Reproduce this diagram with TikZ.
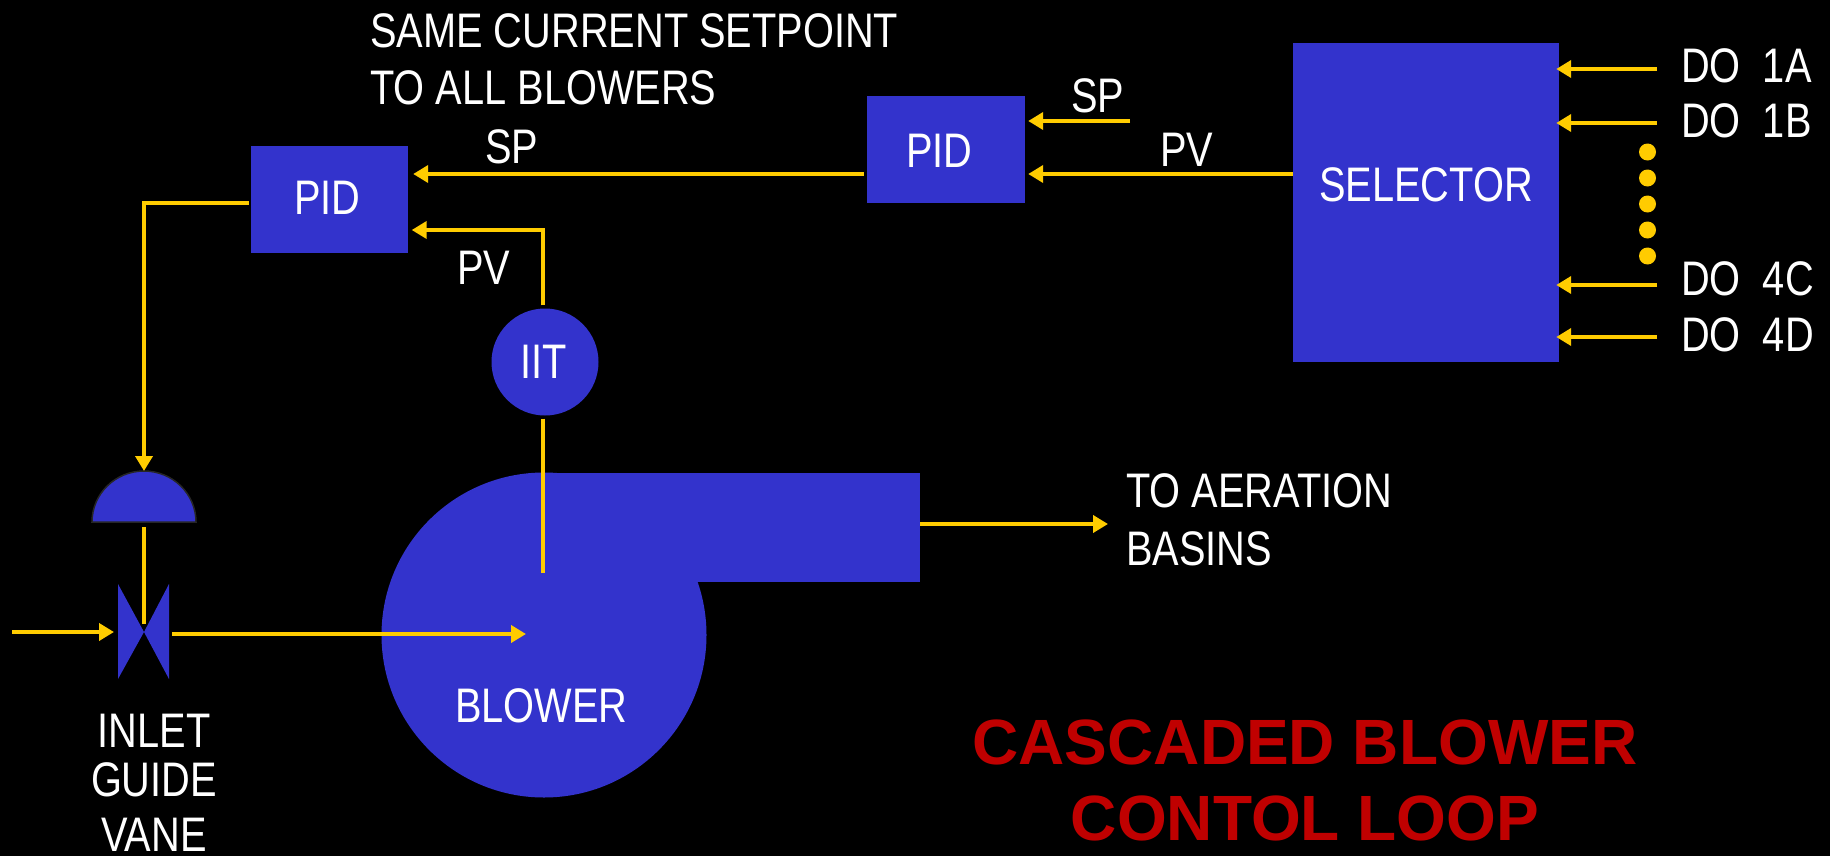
\documentclass[tikz,border=0pt]{standalone}
\usepackage{xcolor}
\usepackage{fontspec}
\setmainfont[FakeStretch=0.82]{Liberation Sans}
\newfontfamily\titlefont{Liberation Sans}
\usepackage{tikz}
\usetikzlibrary{arrows.meta,positioning}
\definecolor{plantblue}{HTML}{3333CC}
\definecolor{signal}{HTML}{FFCC00}
\definecolor{titlered}{HTML}{C00000}

\begin{document}
\begin{tikzpicture}[x=1pt, y=-1pt]
    \tikzstyle{block} = [rectangle, fill=plantblue, inner sep=0pt]
    \tikzstyle{label} = [text=white, inner sep=0pt, anchor=base west, align=left, font=\fontsize{48.5}{57.5}\selectfont]
    \tikzstyle{dotmark} = [circle, fill=signal, inner sep=0pt, minimum size=17pt]
    \tikzstyle{arrow} = [line width=4pt, draw=signal, -{Triangle[length=15pt,width=17pt]}]
    \tikzstyle{wire} = [line width=4pt, draw=signal]

    \path [fill=black, use as bounding box] (0,0) rectangle (1830,856);

    % Controllers and selector
    \node [block, minimum width=157pt, minimum height=107pt] (pidslave) at (329.5,199.5) {};
    \node [block, minimum width=158pt, minimum height=107pt] (pidmaster) at (946,149.5) {};
    \node [block, minimum width=266pt, minimum height=319pt] (selector) at (1426,202.5) {};
    \node [label] (pidslavetext) at (294,214) {PID};
    \node [label] (pidmastertext) at (906,167) {PID};
    \node [label] (selectortext) at (1319,201) {SELECTOR};

    % Blower body
    \node [circle, fill=plantblue, inner sep=0pt, minimum size=325pt] (blower) at (544,635) {};
    \node [block, minimum width=376pt, minimum height=109pt] (discharge) at (732,527.5) {};
    \node [circle, fill=plantblue, inner sep=0pt, minimum size=107pt] (iit) at (545,362) {};
    \node [label] (blowertext) at (455,722) {BLOWER};
    \node [label] (iittext) at (520,378) {IIT};

    % Inlet guide vane and its actuator
    \coordinate (vane) at (144,632);
    \coordinate (acttop) at (144,471);
    \coordinate (actbase) at (144,522);
    \fill [plantblue] (vane) -- (118,584) -- (118,679) -- cycle;
    \fill [plantblue] (vane) -- (169,584) -- (169,679) -- cycle;
    \draw [fill=plantblue, draw=black!85!white, line width=1.5pt] (92,522) arc [start angle=180, end angle=0, x radius=52pt, y radius=51pt] -- cycle;

    % DO inputs
    \node [label] (doa) at (1681,83) {DO\ \ 1A};
    \node [label] (dob) at (1681,138) {DO\ \ 1B};
    \node [label] (doc) at (1681,295) {DO\ \ 4C};
    \node [label] (dod) at (1681,351) {DO\ \ 4D};
    \coordinate (ina) at (1657,69);
    \coordinate (inb) at (1657,123);
    \coordinate (inc) at (1657,285);
    \coordinate (ind) at (1657,337);
    \node [dotmark] (dota) at (1647.5,152) {};
    \node [dotmark, below of=dota, node distance=26pt] (dotb) {};
    \node [dotmark, below of=dotb, node distance=26pt] (dotc) {};
    \node [dotmark, below of=dotc, node distance=26pt] (dotd) {};
    \node [dotmark, below of=dotd, node distance=26pt] (dote) {};

    % Other free ends
    \coordinate (spin) at (1130,121);
    \coordinate (airin) at (12,632);
    \coordinate (airtip) at (526,634);
    \coordinate (stemend) at (543,573);
    \coordinate (basintip) at (1108,524);

    % Texts
    \node [label] (sametext) at (370,105) {SAME CURRENT SETPOINT\\TO ALL BLOWERS};
    \node [label] (spslave) at (485,163) {SP};
    \node [label] (pvslave) at (457,284) {PV};
    \node [label] (spmaster) at (1071,113) {SP};
    \node [label] (pvmaster) at (1160,166) {PV};
    \node [label] (basintext) at (1126,565) {TO AERATION\\BASINS};
    \node [label, align=center, anchor=base, font=\fontsize{48.5}{49}\selectfont] (vanetext) at (154,851) {INLET\\GUIDE\\[6pt]VANE};
    \node [text=titlered, inner sep=0pt, anchor=base, align=center, font=\titlefont\bfseries\fontsize{64}{76}\selectfont] (title) at (1305,840) {CASCADED BLOWER\\CONTOL LOOP};

    % Connections
    \draw [arrow, shorten >=-3pt] (ina) -- (selector.east |- ina);
    \draw [arrow, shorten >=-3pt] (inb) -- (selector.east |- inb);
    \draw [arrow, shorten >=-3pt] (inc) -- (selector.east |- inc);
    \draw [arrow, shorten >=-3pt] (ind) -- (selector.east |- ind);
    \draw [arrow, shorten >=3pt] (spin) -- (pidmaster.east |- spin);
    \draw [arrow, shorten >=3pt] ([yshift=28.5pt]selector.west) -- ([yshift=-24.5pt]pidmaster.east);
    \draw [arrow, shorten <=3pt, shorten >=5pt] ([yshift=-24.5pt]pidmaster.west) -- ([yshift=25.5pt]pidslave.east);
    \draw [arrow, shorten <=3pt, shorten >=3.5pt] ([xshift=-2pt]iit.north) |- ([yshift=-30.5pt]pidslave.east);
    \draw [wire, shorten <=3pt] ([xshift=-2pt]iit.south) -- (stemend);
    \draw [arrow, shorten <=2pt] ([yshift=-3.5pt]pidslave.west) -| (acttop);
    \draw [wire, shorten <=5pt, shorten >=8pt] (actbase) -- (vane);
    \draw [arrow, shorten >=30pt] (airin) -- (vane);
    \draw [arrow, shorten <=28pt] ([yshift=-2pt]vane) -- (airtip);
    \draw [arrow] ([yshift=3.5pt]discharge.east) -- (basintip);
\end{tikzpicture}
\end{document}
